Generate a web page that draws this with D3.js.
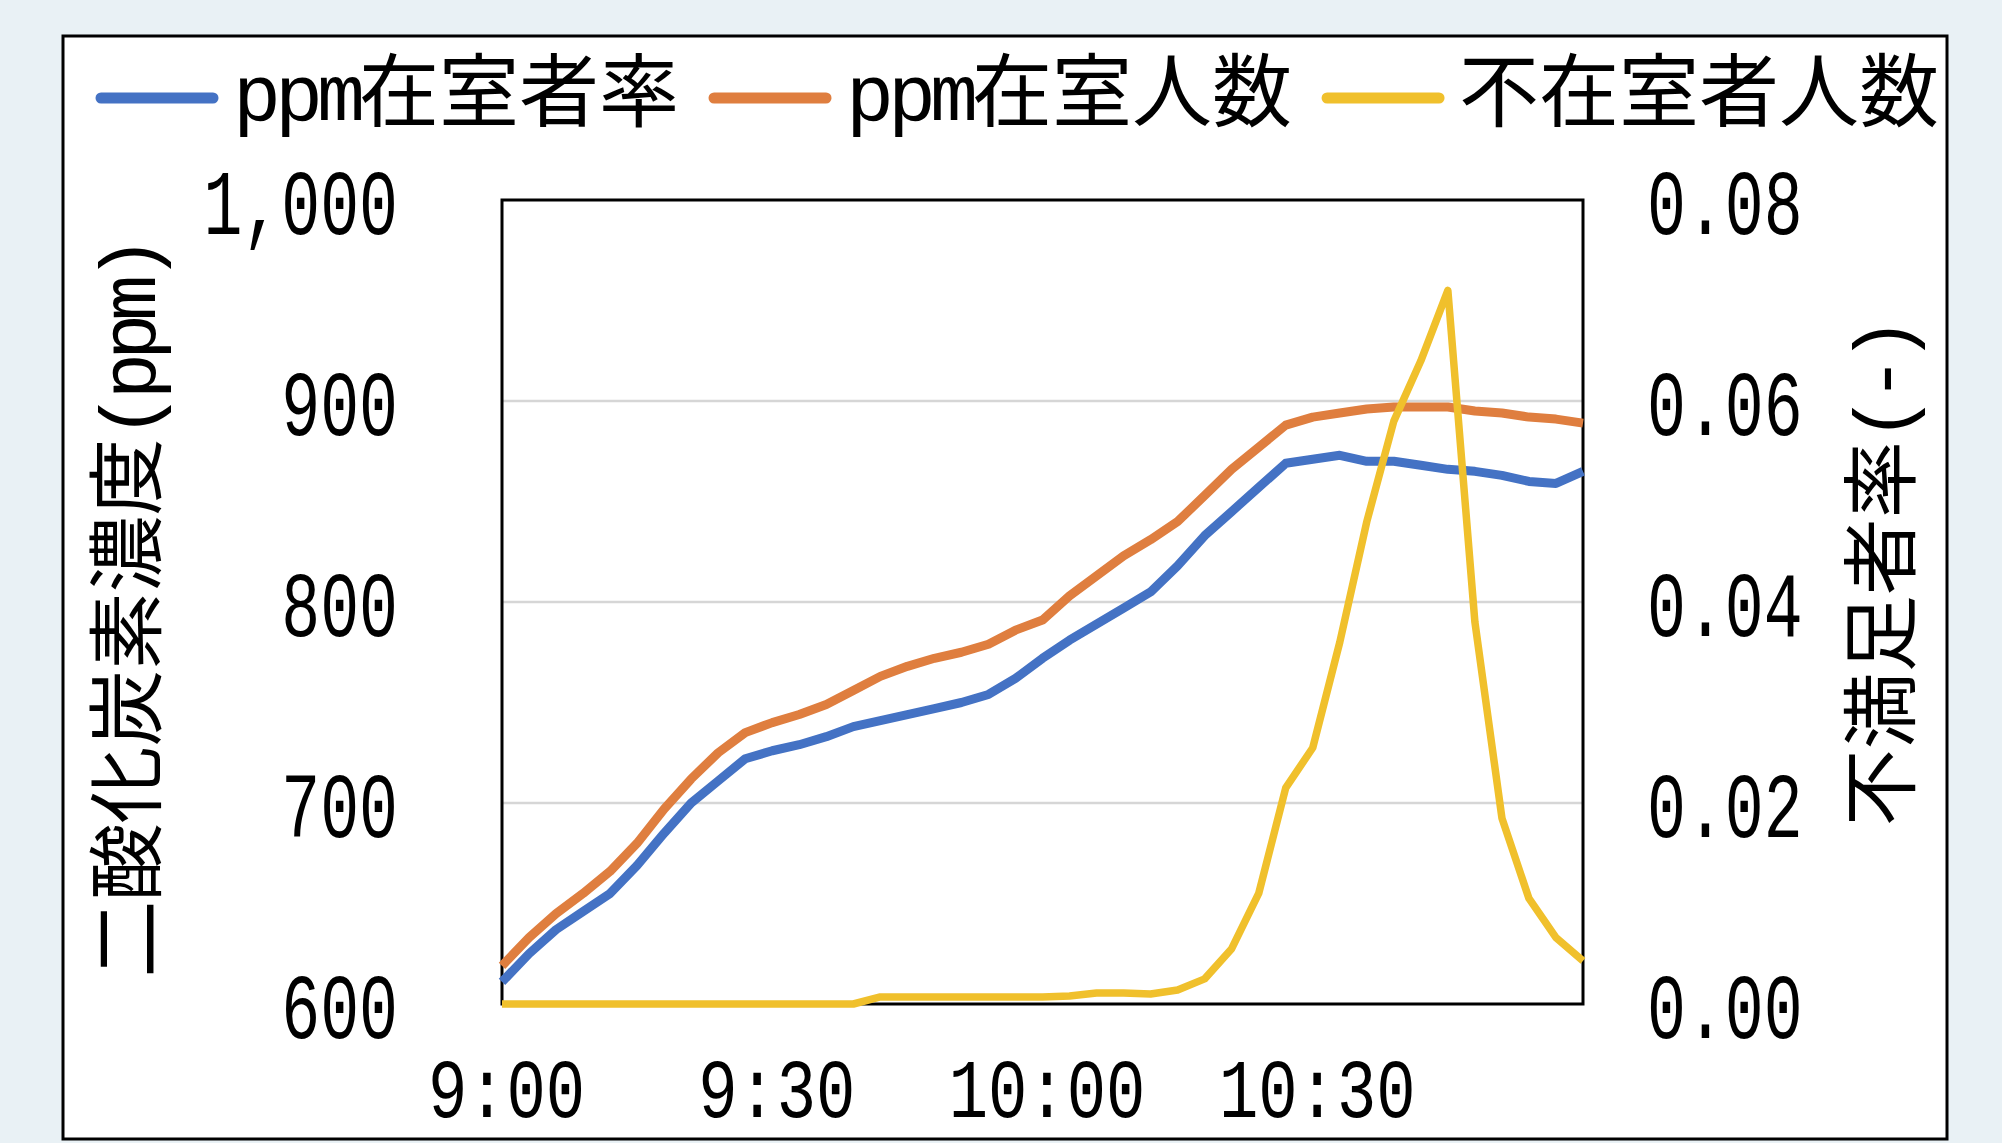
<!DOCTYPE html>
<html><head><meta charset="utf-8">
<script src="https://cdn.jsdelivr.net/npm/d3@7"></script>
<style>html,body{margin:0;padding:0;background:#e9f1f5;} svg{display:block}</style>
</head><body><svg id="c" width="2002" height="1143"></svg>
<script>
const times = ["9:00","9:03","9:06","9:09","9:12","9:15","9:18","9:21","9:24","9:27",
  "9:30","9:33","9:36","9:39","9:42","9:45","9:48","9:51","9:54","9:57",
  "10:00","10:03","10:06","10:09","10:12","10:15","10:18","10:21","10:24","10:27",
  "10:30","10:33","10:36","10:39","10:42","10:45","10:48","10:51","10:54","10:57","11:00"];
const ppmOccRate = [611,625,637,646,655,669,685,700,711,722,
  726,729,733,738,741,744,747,750,754,762,
  772,781,789,797,805,818,833,845,857,869,
  871,873,870,870,868,866,865,863,860,859,865];
const ppmOccCount = [619,633,645,655,666,680,697,712,725,735,
  740,744,749,756,763,768,772,775,779,786,
  791,803,813,823,831,840,853,866,877,888,
  892,894,896,897,897,897,895,894,892,891,889];
const absentCount = [0,0,0,0,0,0,0,0,0,0,
  0,0,0,0,0.0007,0.0007,0.0007,0.0007,0.0007,0.0007,
  0.0007,0.0008,0.0011,0.0011,0.0010,0.0014,0.0025,0.0055,0.011,0.0215,
  0.0255,0.036,0.048,0.058,0.064,0.071,0.038,0.0185,0.0105,0.0066,0.0043];
const xTickTimes = ["9:00","9:30","10:00","10:30"];
const leftTicks = [600,700,800,900,1000];
const rightTicks = [0,0.02,0.04,0.06,0.08];
const gridTicks = [700,800,900];
const seriesNames = ["ppm在室者率","ppm在室人数","不在室者人数"];
const leftTitle = "二酸化炭素濃度(ppm)";
const rightTitle = "不満足者率(-)";
const colors = ["#4472C4","#DF7E3F","#F0C02C"];

const FONT = "'Liberation Mono','Noto Sans CJK JP',monospace";
const SX = 0.705;
function toMin(t){const p=t.split(":").map(Number);return (p[0]-9)*60+p[1];}

const W=2002,H=1143;
const svg=d3.select("#c");
svg.append("rect").attr("x",0).attr("y",0).attr("width",W).attr("height",H).attr("fill","#e9f1f5");
svg.append("rect").attr("x",63).attr("y",36).attr("width",1884).attr("height",1103)
  .attr("fill","#fff").attr("stroke","#000").attr("stroke-width",3);

const m={l:502,r:1583,t:200,b:1004};
const x=d3.scaleLinear().domain([0,120]).range([m.l,m.r]);
const yL=d3.scaleLinear().domain([600,1000]).range([m.b,m.t]);
const yR=d3.scaleLinear().domain([0,0.08]).range([m.b,m.t]);

// gridlines
svg.append("g").selectAll("line").data(gridTicks).join("line")
  .attr("x1",m.l).attr("x2",m.r).attr("y1",d=>yL(d)).attr("y2",d=>yL(d))
  .attr("stroke","#d6d6d6").attr("stroke-width",2.5);

// plot border
svg.append("rect").attr("x",m.l).attr("y",m.t).attr("width",m.r-m.l).attr("height",m.b-m.t)
  .attr("fill","none").attr("stroke","#000").attr("stroke-width",3);

// axes
function styleAxis(g,fs){
  g.select(".domain").remove();
  g.selectAll(".tick line").remove();
  g.selectAll("text").attr("font-family",FONT).attr("font-size",fs).attr("fill","#000");
}
const gL=svg.append("g").attr("transform",`translate(${m.l},0)`)
  .call(d3.axisLeft(yL).tickValues(leftTicks).tickFormat(d3.format(",")).tickSize(0).tickPadding(0));
styleAxis(gL,92);
gL.selectAll("text").attr("x",-104/SX).attr("dy","0.36em").attr("transform",`scale(${SX},1)`);

const gR=svg.append("g").attr("transform",`translate(${m.r},0)`)
  .call(d3.axisRight(yR).tickValues(rightTicks).tickFormat(d3.format(".2f")).tickSize(0).tickPadding(0));
styleAxis(gR,92);
gR.selectAll("text").attr("x",64/SX).attr("dy","0.36em").attr("transform",`scale(${SX},1)`);

const BX = 0.78;
const gB=svg.append("g").attr("transform",`translate(0,${m.b})`)
  .call(d3.axisBottom(x).tickValues(xTickTimes.map(toMin)).tickFormat((d,i)=>xTickTimes[i]).tickSize(0).tickPadding(0));
styleAxis(gB,84);
gB.selectAll("text").attr("y",113).attr("dy","0").attr("x",4/BX).attr("transform",`scale(${BX},1)`);

// series lines
const rows = times.map((t,i)=>({t:toMin(t),a:ppmOccRate[i],b:ppmOccCount[i],c:absentCount[i]}));
const lineA=d3.line().x(d=>x(d.t)).y(d=>yL(d.a));
const lineB=d3.line().x(d=>x(d.t)).y(d=>yL(d.b));
const lineC=d3.line().x(d=>x(d.t)).y(d=>yR(d.c));
[[lineA,colors[0],9],[lineB,colors[1],9],[lineC,colors[2],7.5]].forEach(([ln,c,w])=>{
  svg.append("path").datum(rows).attr("d",ln).attr("fill","none").attr("stroke",c)
    .attr("stroke-width",w).attr("stroke-linejoin","round").attr("stroke-linecap","butt");
});

// mixed text helper
function mixed(sel,str,ls){
  (str.match(/[\x00-\x7F]+|[^\x00-\x7F]+/g)||[]).forEach(p=>{
    const ts=sel.append("tspan").text(p);
    if(/^[\x00-\x7F]+$/.test(p)) ts.attr("letter-spacing",ls);
  });
}

// legend
const legY=98;
let cx=96;
seriesNames.forEach((name,i)=>{
  svg.append("line").attr("x1",cx+5).attr("x2",cx+117).attr("y1",legY).attr("y2",legY)
    .attr("stroke",colors[i]).attr("stroke-width",11).attr("stroke-linecap","round");
  const t=svg.append("text").attr("x",cx+137).attr("y",legY).attr("dominant-baseline","central")
    .attr("font-family",FONT).attr("font-size",80).attr("fill","#000");
  mixed(t,name,-6);
  const w=t.node().getComputedTextLength();
  cx = cx+137+w+30;
});

// axis titles
const tl=svg.append("text").attr("transform",`translate(134,610) rotate(-90)`)
  .attr("text-anchor","middle").attr("dominant-baseline","central")
  .attr("font-family",FONT).attr("font-size",77).attr("fill","#000");
mixed(tl,leftTitle,-7);
const tr=svg.append("text").attr("transform",`translate(1888,575) rotate(-90)`)
  .attr("text-anchor","middle").attr("dominant-baseline","central")
  .attr("font-family",FONT).attr("font-size",77).attr("fill","#000");
mixed(tr,rightTitle,-7);
</script></body></html>
